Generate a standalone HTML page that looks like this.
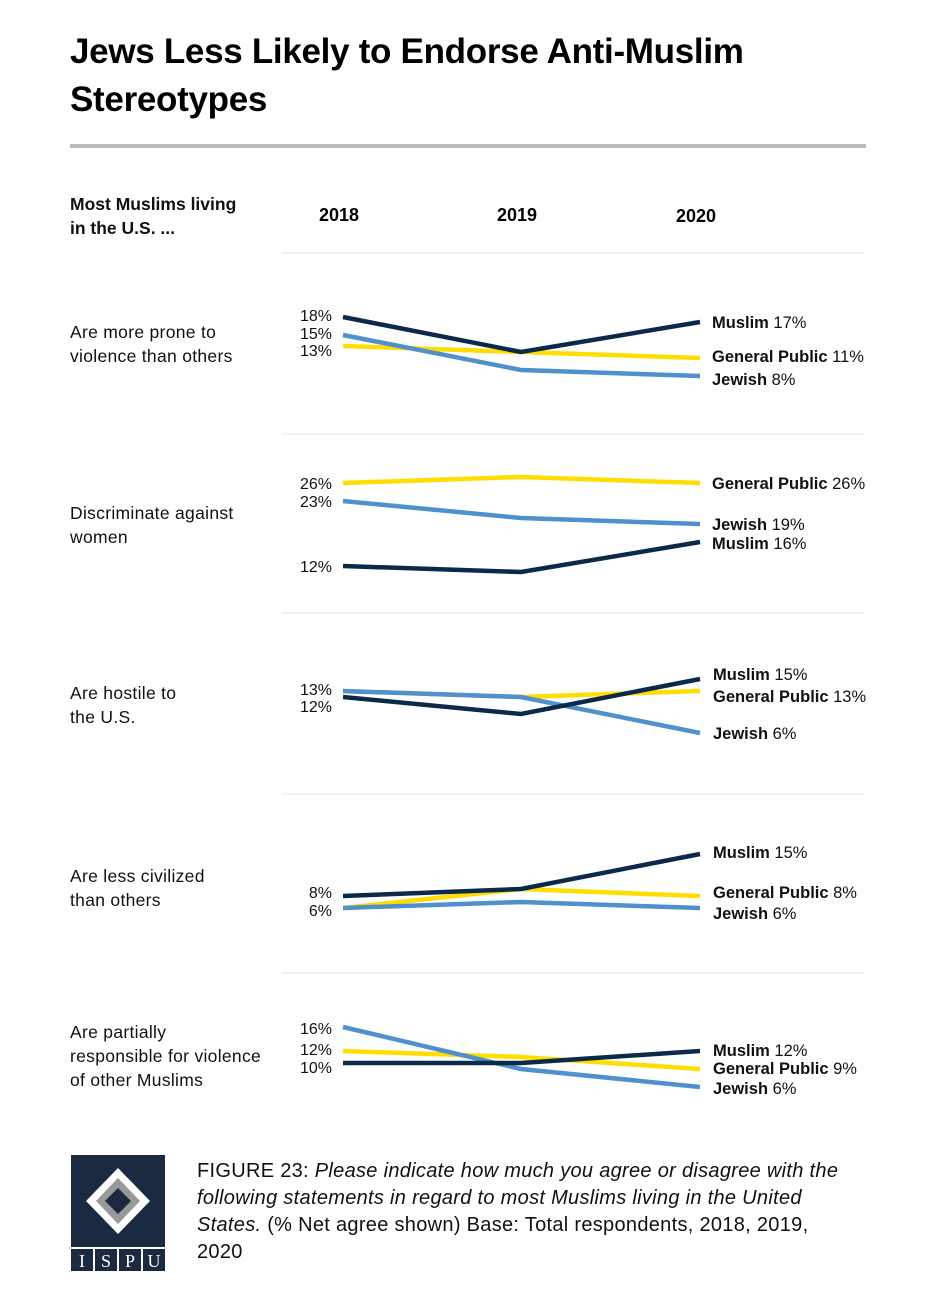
<!DOCTYPE html><html><head><meta charset="utf-8"><style>
body{margin:0;width:941px;height:1296px;background:#fff;font-family:"Liberation Sans",sans-serif;position:relative;overflow:hidden}
.a{position:absolute;white-space:nowrap}
h1{position:absolute;left:70px;top:28px;margin:0;font-size:35px;line-height:48px;font-weight:bold;color:#000;letter-spacing:-0.3px}
.q{font-size:17.5px;line-height:24px;color:#111;left:70px;letter-spacing:0.3px}
.b{font-weight:bold}
</style></head><body>
<h1>Jews Less Likely to Endorse Anti-Muslim<br>Stereotypes</h1>
<div class="a" style="left:70px;top:144px;width:796px;height:4px;background:#bbb"></div>
<div class="a q b" style="top:192px;letter-spacing:0">Most Muslims living<br>in the U.S. ...</div>
<div class="a b" style="left:319px;top:205px;font-size:18px">2018</div>
<div class="a b" style="left:497px;top:205px;font-size:18px">2019</div>
<div class="a b" style="left:676px;top:206px;font-size:18px">2020</div>
<div class="a q" style="top:320px">Are more prone to<br>violence than others</div>
<div class="a q" style="top:501px">Discriminate against<br>women</div>
<div class="a q" style="top:681px">Are hostile to<br>the U.S.</div>
<div class="a q" style="top:864px">Are less civilized<br>than others</div>
<div class="a q" style="top:1020px">Are partially<br>responsible for violence<br>of other Muslims</div>
<svg class="a" style="left:0;top:0" width="941" height="1296">
<g stroke="#e3e3e3" stroke-width="1"><line x1="282" y1="253" x2="865" y2="253"/><line x1="282" y1="434" x2="865" y2="434"/><line x1="282" y1="613" x2="865" y2="613"/><line x1="282" y1="794" x2="865" y2="794"/><line x1="282" y1="973" x2="865" y2="973"/></g>
<g fill="none" stroke-width="4.5" stroke-linejoin="miter">
<polyline stroke="#ffdd00" points="343,346 521,352 700,358"/>
<polyline stroke="#4f90cd" points="343,335 521,370 700,376"/>
<polyline stroke="#0b2a4a" points="343,317 521,352 700,322"/>
<polyline stroke="#ffdd00" points="343,483 521,477 700,483"/>
<polyline stroke="#4f90cd" points="343,501 521,518 700,524"/>
<polyline stroke="#0b2a4a" points="343,566 521,572 700,542"/>
<polyline stroke="#ffdd00" points="343,691 521,697 700,691"/>
<polyline stroke="#4f90cd" points="343,691 521,697 700,733"/>
<polyline stroke="#0b2a4a" points="343,697 521,714 700,679"/>
<polyline stroke="#ffdd00" points="343,908 521,889 700,896"/>
<polyline stroke="#4f90cd" points="343,908 521,902 700,908"/>
<polyline stroke="#0b2a4a" points="343,896 521,889 700,854"/>
<polyline stroke="#ffdd00" points="343,1051 521,1057 700,1069"/>
<polyline stroke="#4f90cd" points="343,1027 521,1069 700,1087"/>
<polyline stroke="#0b2a4a" points="343,1063 521,1063 700,1051"/>
</g>
<g font-family="Liberation Sans,sans-serif" font-size="16" fill="#111" text-anchor="end">
<text x="332" y="321">18%</text><text x="332" y="339">15%</text><text x="332" y="356">13%</text>
<text x="332" y="489">26%</text><text x="332" y="507">23%</text><text x="332" y="572">12%</text>
<text x="332" y="695">13%</text><text x="332" y="712">12%</text>
<text x="332" y="898">8%</text><text x="332" y="916">6%</text>
<text x="332" y="1034">16%</text><text x="332" y="1055">12%</text><text x="332" y="1073">10%</text>
</g>
<g font-family="Liberation Sans,sans-serif" font-size="16.5" fill="#111" xml:space="preserve">
<text x="712" y="328"><tspan font-weight="bold">Muslim</tspan>  17%</text>
<text x="712" y="362"><tspan font-weight="bold">General Public</tspan>  11%</text>
<text x="712" y="385"><tspan font-weight="bold">Jewish</tspan>  8%</text>
<text x="712" y="489"><tspan font-weight="bold">General Public</tspan>  26%</text>
<text x="712" y="530"><tspan font-weight="bold">Jewish</tspan>  19%</text>
<text x="712" y="549"><tspan font-weight="bold">Muslim</tspan>  16%</text>
<text x="713" y="680"><tspan font-weight="bold">Muslim</tspan>  15%</text>
<text x="713" y="702"><tspan font-weight="bold">General Public</tspan>  13%</text>
<text x="713" y="739"><tspan font-weight="bold">Jewish</tspan>  6%</text>
<text x="713" y="858"><tspan font-weight="bold">Muslim</tspan>  15%</text>
<text x="713" y="898"><tspan font-weight="bold">General Public</tspan>  8%</text>
<text x="713" y="919"><tspan font-weight="bold">Jewish</tspan>  6%</text>
<text x="713" y="1056"><tspan font-weight="bold">Muslim</tspan>  12%</text>
<text x="713" y="1074"><tspan font-weight="bold">General Public</tspan>  9%</text>
<text x="713" y="1094"><tspan font-weight="bold">Jewish</tspan>  6%</text>
</g>
<g>
<rect x="71" y="1155" width="94" height="92" fill="#1b2a40"/>
<path d="M118,1168 L150,1201 L118,1234 L86,1201Z" fill="#fff"/>
<path d="M118,1178 L140,1201 L118,1224 L96,1201Z" fill="#999"/>
<path d="M118,1188 L131,1201 L118,1214 L105,1201Z" fill="#1b2a40"/>
<rect x="71" y="1249" width="22" height="22" fill="#1b2a40"/><rect x="95" y="1249" width="22" height="22" fill="#1b2a40"/><rect x="119" y="1249" width="22" height="22" fill="#1b2a40"/><rect x="143" y="1249" width="22" height="22" fill="#1b2a40"/>
<g font-family="Liberation Serif,serif" font-size="18" fill="#fff" text-anchor="middle"><text x="82" y="1267">I</text><text x="106" y="1267">S</text><text x="130" y="1267">P</text><text x="154" y="1267">U</text></g>
</g>
</svg>
<div class="a" style="left:197px;top:1158px;font-size:20px;line-height:27px;color:#111;letter-spacing:0.3px">FIGURE 23: <i>Please indicate how much you agree or disagree with the</i><br><i>following statements in regard to most Muslims living in the United</i><br><i>States.</i> (% Net agree shown) Base: Total respondents, 2018, 2019,<br>2020</div>
</body></html>
